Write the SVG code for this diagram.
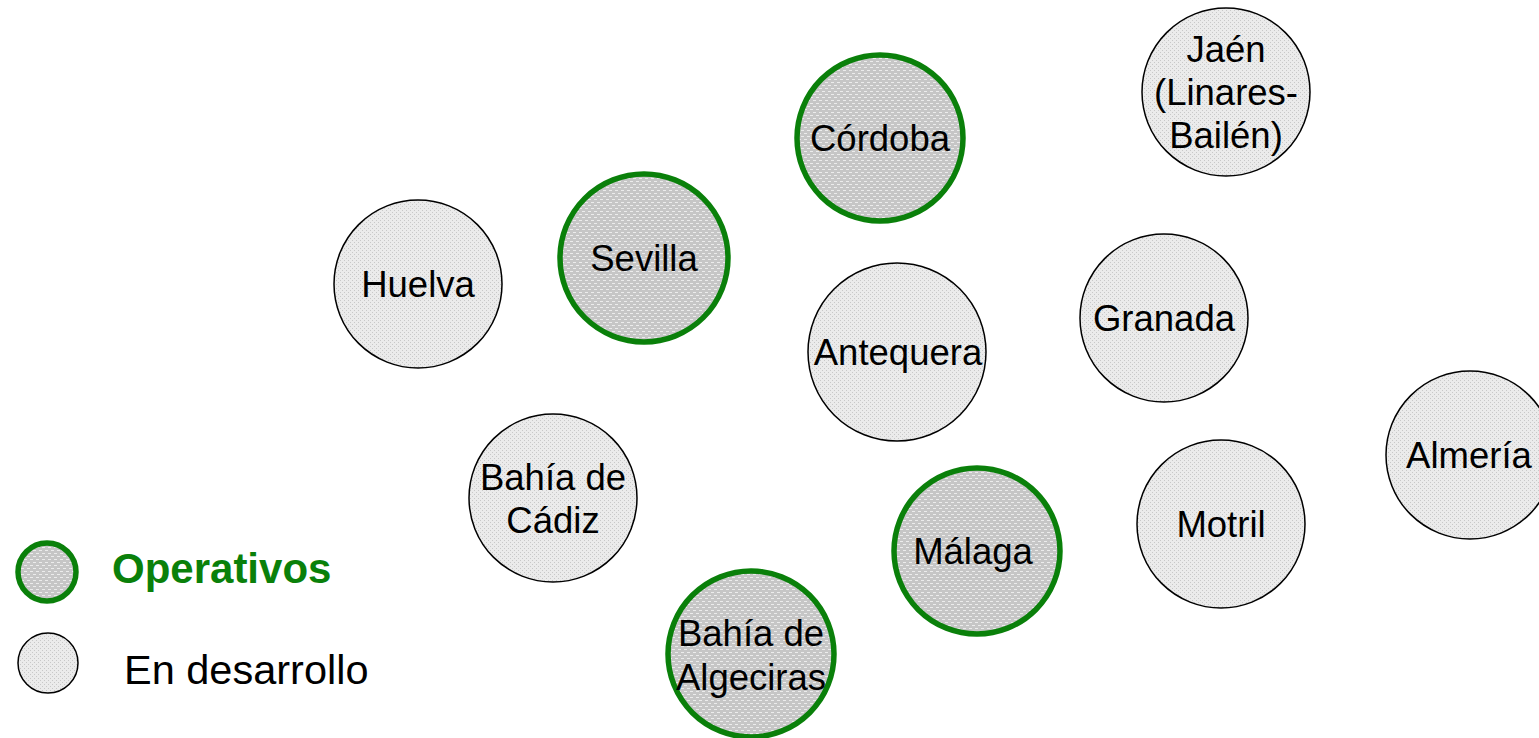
<svg xmlns="http://www.w3.org/2000/svg" width="1539" height="738" viewBox="0 0 1539 738">
<defs>
<pattern id="pOp" width="6" height="6" patternUnits="userSpaceOnUse">
<rect width="6" height="6" fill="#c6c6c6"/>
<rect x="0" y="1" width="3" height="1" fill="#ececec"/>
<rect x="3" y="4" width="3" height="1" fill="#ececec"/>
</pattern>
<pattern id="pDev" width="4" height="4" patternUnits="userSpaceOnUse">
<rect width="4" height="4" fill="#ebebeb"/>
<rect x="0" y="0" width="1" height="1" fill="#c8c8c8"/>
<rect x="2" y="2" width="1" height="1" fill="#c8c8c8"/>
</pattern>
</defs>
<style>
.op{fill:url(#pOp);stroke:#0a800a;stroke-width:5.5}
.dev{fill:url(#pDev);stroke:#000;stroke-width:1.5}
.t{font-family:"Liberation Sans",Arial,sans-serif;font-size:36.5px;fill:#000;text-anchor:middle}
.leg{font-family:"Liberation Sans",Arial,sans-serif}
</style>
<g id="cordoba"><circle class="op" cx="880" cy="138" r="83"/><text class="t" x="880" y="151">Córdoba</text></g>
<g id="jaen"><circle class="dev" cx="1226" cy="92" r="84"/><text class="t" x="1226" y="62">Jaén</text><text class="t" x="1226" y="105">(Linares-</text><text class="t" x="1226" y="148">Bailén)</text></g>
<g id="sevilla"><circle class="op" cx="644" cy="258" r="84"/><text class="t" x="644" y="271">Sevilla</text></g>
<g id="huelva"><circle class="dev" cx="418" cy="284" r="84"/><text class="t" x="418" y="297">Huelva</text></g>
<g id="antequera"><circle class="dev" cx="897" cy="352" r="89"/><text class="t" x="898" y="365">Antequera</text></g>
<g id="granada"><circle class="dev" cx="1164" cy="318" r="84"/><text class="t" x="1164" y="331">Granada</text></g>
<g id="almeria"><circle class="dev" cx="1470" cy="455" r="84"/><text class="t" x="1469" y="468">Almería</text></g>
<g id="cadiz"><circle class="dev" cx="553" cy="498" r="84"/><text class="t" x="553" y="490">Bahía de</text><text class="t" x="553" y="533">Cádiz</text></g>
<g id="malaga"><circle class="op" cx="977" cy="551" r="83"/><text class="t" x="973" y="564">Málaga</text></g>
<g id="motril"><circle class="dev" cx="1221" cy="524" r="84"/><text class="t" x="1221" y="537">Motril</text></g>
<g id="algeciras"><circle class="op" cx="751" cy="654" r="83"/><text class="t" x="751" y="646">Bahía de</text><text class="t" x="751" y="690">Algeciras</text></g>
<g id="legend-op"><circle class="op" cx="47" cy="572" r="29"/><text class="leg" x="112" y="583" font-weight="bold" fill="#0a800a" font-size="42">Operativos</text></g>
<g id="legend-dev"><circle class="dev" cx="48" cy="663" r="30"/><text class="leg" x="124" y="684" fill="#000" font-size="41.5">En desarrollo</text></g>
<g id="connectors"/>
</svg>
